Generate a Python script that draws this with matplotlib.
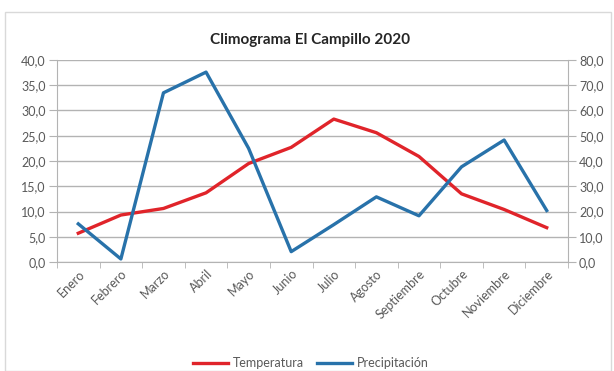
import matplotlib
matplotlib.use("Agg")
import matplotlib.pyplot as plt
from matplotlib.ticker import FuncFormatter, MultipleLocator, FixedLocator
from matplotlib.patches import Rectangle
import numpy as np

months = ["Enero", "Febrero", "Marzo", "Abril", "Mayo", "Junio", "Julio",
          "Agosto", "Septiembre", "Octubre", "Noviembre", "Diciembre"]
temperatura = [5.7, 9.3, 10.6, 13.7, 19.5, 22.7, 28.3, 25.6, 20.9, 13.5, 10.4, 6.8]
precipitacion = [15.1, 1.2, 67.0, 75.2, 45.0, 4.1, 14.8, 25.8, 18.3, 37.7, 48.3, 20.4]

plt.rcParams['font.family'] = ['Lato', 'DejaVu Sans']

W, H = 614, 371
fig = plt.figure(figsize=(W / 100, H / 100), dpi=100)

# chart border
fig.patches.append(Rectangle((5 / W, 0), (W - 8) / W, (H - 12) / H,
                             transform=fig.transFigure, fill=False,
                             edgecolor="#d9d9d9", linewidth=1))

left, right, top, bottom = 57, 568, 60, 262
ax = fig.add_axes([left / W, 1 - bottom / H, (right - left) / W, (bottom - top) / H])
ax2 = ax.twinx()

x = np.arange(len(months))
grid_c = "#b3b3b3"
txt_c = "#595959"

ax.set_xlim(-0.5, len(months) - 0.5)
ax.set_ylim(0, 40)
ax2.set_ylim(0, 80)
ax.yaxis.set_major_locator(MultipleLocator(5))
ax2.yaxis.set_major_locator(MultipleLocator(10))
fmt = FuncFormatter(lambda v, p: f"{v:.1f}".replace(".", ","))
ax.yaxis.set_major_formatter(fmt)
ax2.yaxis.set_major_formatter(fmt)
ax.yaxis.grid(True, color=grid_c, linewidth=1)
ax.set_axisbelow(True)

for a in (ax, ax2):
    for s in a.spines.values():
        s.set_visible(False)
ax.spines['left'].set_visible(True)
ax.spines['left'].set_color(grid_c)
ax.spines['bottom'].set_visible(True)
ax.spines['bottom'].set_color(grid_c)
ax2.spines['right'].set_visible(True)
ax2.spines['right'].set_color(grid_c)

ax.tick_params(axis='y', colors=grid_c, labelcolor=txt_c, labelsize=9, length=6, pad=2)
ax2.tick_params(axis='y', colors=grid_c, labelcolor=txt_c, labelsize=9, length=6, pad=2)

ax.set_xticks(x)
ax.set_xticklabels(months, rotation=45, ha='right', rotation_mode='anchor',
                   fontsize=9, color=txt_c)
ax.tick_params(axis='x', length=0, pad=4)
ax.xaxis.set_minor_locator(FixedLocator(np.arange(-0.5, len(months), 1)))
ax.tick_params(axis='x', which='minor', length=4, color=grid_c, direction='out')

l1, = ax.plot(x, temperatura, color="#e0242a", linewidth=2.4, label="Temperatura",
              solid_joinstyle='round', zorder=3)
l2, = ax2.plot(x, precipitacion, color="#2872aa", linewidth=2.4, label="Precipitación",
               solid_joinstyle='round', zorder=3)

fig.text(310 / W, 1 - 40 / H, "Climograma El Campillo 2020", ha='center', va='center',
         fontsize=11, fontweight='bold', color="#262626")

fig.legend(handles=[l1, l2], loc='center', bbox_to_anchor=(311 / W, 1 - 363 / H),
           ncol=2, frameon=False, fontsize=9, labelcolor=txt_c,
           handlelength=2.8, columnspacing=1.0, handletextpad=0.4)

fig.savefig("out.png", dpi=100)
